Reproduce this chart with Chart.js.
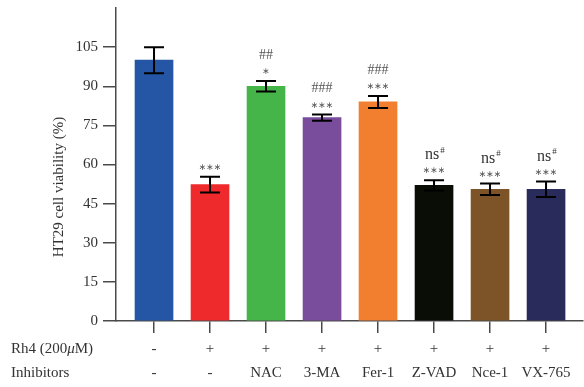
<!DOCTYPE html>
<html>
<head>
<meta charset="utf-8">
<script src="https://cdn.jsdelivr.net/npm/chart.js@4.4.0/dist/chart.umd.min.js"></script>
<style>
  html, body { margin: 0; padding: 0; background: #fff; }
  #box { width: 584px; height: 387px; }
</style>
</head>
<body>
<div id="box"><canvas id="myChart"></canvas></div>
<script>
// datos
const rh4 = ["-", "+", "+", "+", "+", "+", "+", "+"];
const inhibidores = ["-", "-", "NAC", "3-MA", "Fer-1", "Z-VAD", "Nce-1", "VX-765"];
const viabilidad = [100, 52.3, 90, 78, 84, 52, 50.5, 50.5];
const errores = [5, 3, 2, 1.2, 2.3, 2, 2.2, 3];
const marcaHash = ["", "", "##", "###", "###", "ns", "ns", "ns"];
const marcaEstrella = ["", "***", "*", "***", "***", "***", "***", "***"];
const colores = ["#2456a5", "#ee2a2d", "#45b549", "#7a4c9c", "#f27f30", "#0a0c06", "#7d5427", "#292b5a"];
const yTicks = [0, 15, 30, 45, 60, 75, 90, 105];

const serif = "'Liberation Serif', 'DejaVu Serif', serif";
const gris = "#333";
const ejeColor = "#4a4a4a";

const puntos = viabilidad.map((v, i) => ({ x: i, y: v }));

const extras = {
  id: "extras",
  afterDatasetsDraw(chart) {
    const ctx = chart.ctx;
    const xs = chart.scales.x;
    const ys = chart.scales.y;
    ctx.save();
    // barras de error
    ctx.strokeStyle = "#000";
    ctx.lineWidth = 2;
    viabilidad.forEach((v, i) => {
      const x = xs.getPixelForValue(i);
      const yt = ys.getPixelForValue(v + errores[i]);
      const yb = ys.getPixelForValue(v - errores[i]);
      ctx.beginPath();
      ctx.moveTo(x, yt); ctx.lineTo(x, yb);
      ctx.moveTo(x - 10, yt); ctx.lineTo(x + 10, yt);
      ctx.moveTo(x - 10, yb); ctx.lineTo(x + 10, yb);
      ctx.stroke();

      // estrellas y almohadillas
      ctx.textAlign = "center";
      ctx.textBaseline = "middle";
      ctx.fillStyle = "#555";
      if (marcaEstrella[i]) {
        ctx.font = "9px 'DejaVu Sans', sans-serif";
        ctx.fillText(marcaEstrella[i].replace(/\*/g, "\u2217"), x, yt - 9);
      }
      if (marcaHash[i] === "ns") {
        ctx.fillStyle = gris;
        ctx.font = "16px " + serif;
        const w = ctx.measureText("ns").width;
        ctx.textAlign = "left";
        ctx.fillText("ns", x - w / 2 - 2, yt - 25);
        ctx.font = "9px " + serif;
        ctx.fillText("#", x + w / 2 - 1, yt - 30);
      } else if (marcaHash[i]) {
        ctx.fillStyle = "#555";
        ctx.font = "14px " + serif;
        ctx.fillText(marcaHash[i], x, yt - 26);
      }
    });
    ctx.restore();
  },
  afterDraw(chart) {
    const ctx = chart.ctx;
    ctx.save();
    ctx.fillStyle = gris;
    ctx.textBaseline = "middle";
    ctx.textAlign = "left";
    ctx.font = "15px " + serif;
    let x = 11;
    ctx.fillText("Rh4 (200", x, 349);
    x += ctx.measureText("Rh4 (200").width;
    ctx.font = "italic 15px " + serif;
    ctx.fillText("\u03bc", x, 349);
    x += ctx.measureText("\u03bc").width;
    ctx.font = "15px " + serif;
    ctx.fillText("M)", x, 349);
    ctx.fillText("Inhibitors", 11, 373);

    // titulo eje y
    ctx.translate(59, 187);
    ctx.rotate(-Math.PI / 2);
    ctx.textAlign = "center";
    ctx.font = "15px " + serif;
    ctx.fillText("HT29 cell viability (%)", 0, 0);
    ctx.restore();
  }
};

const data = {
  datasets: [
    {
      label: "viabilidad",
      data: puntos,
      backgroundColor: colores,
      borderWidth: 0,
      barThickness: 38,
    },
  ],
};

const config = {
  type: "bar",
  data,
  options: {
    responsive: true,
    maintainAspectRatio: false,
    animation: false,
    layout: { padding: { left: 0, right: 1, top: 8, bottom: 0 } },
    plugins: { legend: { display: false }, tooltip: { enabled: false } },
    scales: {
      x: {
        type: "linear",
        offset: false,
        min: -0.679,
        max: 7.66,
        afterBuildTicks(scale) {
          scale.ticks = inhibidores.map((_, i) => ({ value: i }));
        },
        afterFit(scale) { scale.height = 66; },
        ticks: {
          autoSkip: false,
          maxRotation: 0,
          padding: 4,
          color: gris,
          font: { family: serif, size: 15, lineHeight: 1.6 },
          callback: (v) => [rh4[v], inhibidores[v]],
        },
        grid: { offset: false, drawOnChartArea: false, tickLength: 12, color: ejeColor, lineWidth: 1.5 },
        border: { color: ejeColor, width: 1.5 },
      },
      y: {
        min: 0,
        max: 120,
        afterBuildTicks(scale) {
          scale.ticks = yTicks.map((v) => ({ value: v }));
        },
        afterFit(scale) {
          scale.width = 116;
          scale.paddingTop = 0;
          scale.paddingBottom = 0;
        },
        ticks: {
          padding: 5,
          color: gris,
          font: { family: serif, size: 15 },
        },
        grid: { drawOnChartArea: false, tickLength: 13, color: ejeColor, lineWidth: 1.5 },
        border: { color: ejeColor, width: 1.5 },
      },
    },
  },
  plugins: [extras],
};

var myChart = new Chart(document.getElementById("myChart"), config);
</script>
</body>
</html>
